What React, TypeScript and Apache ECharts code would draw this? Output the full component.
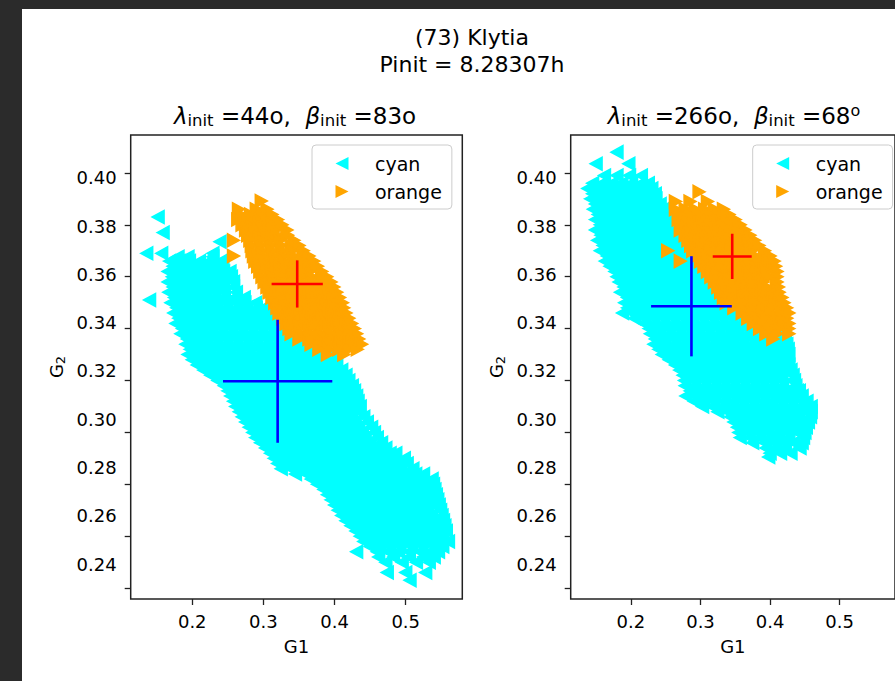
import React, { useEffect, useRef } from "react";
import * as echarts from "echarts";

const FONT = "DejaVu Sans";

// Tick values
const xTicks = [0.2, 0.3, 0.4, 0.5];
const yTicks = [0.24, 0.26, 0.28, 0.3, 0.32, 0.34, 0.36, 0.38, 0.4];

// Point clouds, listed row by row: [G2, [G1 values...]]
const cyanLeftRows: [number, number[]][] = [
  [0.383, [0.152]],
  [0.377, [0.159]],
  [0.3735, [0.239]],
  [0.369, [0.136, 0.157, 0.229]],
  [0.3677, [0.18, 0.194, 0.229]],
  [0.366, [0.168, 0.182, 0.196, 0.21, 0.224, 0.24]],
  [0.364, [0.173, 0.187, 0.201, 0.215, 0.229, 0.243]],
  [0.362, [0.166, 0.179, 0.192, 0.205, 0.218, 0.231, 0.244, 0.253]],
  [0.36, [0.172, 0.186, 0.2, 0.214, 0.228, 0.242, 0.255]],
  [0.358, [0.166, 0.179, 0.192, 0.205, 0.218, 0.231, 0.244, 0.258]],
  [0.356, [0.173, 0.187, 0.201, 0.215, 0.229, 0.243, 0.258]],
  [0.354, [0.167, 0.18, 0.193, 0.206, 0.219, 0.232, 0.245, 0.262]],
  [0.352, [0.175, 0.189, 0.203, 0.217, 0.231, 0.245, 0.259, 0.273]],
  [0.351, [0.14]],
  [0.35, [0.17, 0.183, 0.196, 0.209, 0.222, 0.235, 0.248, 0.261, 0.274, 0.289]],
  [0.348, [0.178, 0.192, 0.206, 0.22, 0.234, 0.248, 0.262, 0.276, 0.29, 0.3]],
  [0.346, [0.174, 0.188, 0.202, 0.216, 0.23, 0.244, 0.258, 0.272, 0.286, 0.298, 0.31]],
  [0.344, [0.181, 0.195, 0.209, 0.223, 0.237, 0.251, 0.265, 0.279, 0.293, 0.307, 0.314]],
  [0.342, [0.177, 0.191, 0.205, 0.219, 0.233, 0.247, 0.261, 0.275, 0.289, 0.303, 0.318]],
  [0.34, [0.186, 0.2, 0.214, 0.228, 0.242, 0.256, 0.27, 0.284, 0.298, 0.312, 0.322]],
  [0.338, [0.184, 0.198, 0.212, 0.226, 0.24, 0.254, 0.268, 0.282, 0.296, 0.31, 0.326]],
  [0.336, [0.193, 0.207, 0.221, 0.235, 0.249, 0.263, 0.277, 0.291, 0.305, 0.319, 0.333, 0.347]],
  [0.334, [0.191, 0.205, 0.219, 0.233, 0.247, 0.261, 0.275, 0.289, 0.303, 0.317, 0.331, 0.345, 0.359, 0.373]],
  [0.332, [0.197, 0.211, 0.225, 0.239, 0.253, 0.267, 0.281, 0.295, 0.309, 0.323, 0.337, 0.351, 0.365, 0.379, 0.386]],
  [0.33, [0.194, 0.208, 0.222, 0.236, 0.25, 0.264, 0.278, 0.292, 0.306, 0.32, 0.334, 0.348, 0.362, 0.376, 0.39, 0.398]],
  [0.328, [0.2, 0.214, 0.228, 0.242, 0.256, 0.27, 0.284, 0.298, 0.312, 0.326, 0.34, 0.354, 0.368, 0.382, 0.396, 0.402]],
  [0.326, [0.207, 0.221, 0.235, 0.249, 0.263, 0.277, 0.291, 0.305, 0.319, 0.333, 0.347, 0.361, 0.375, 0.389, 0.403]],
  [0.324, [0.216, 0.23, 0.244, 0.258, 0.272, 0.286, 0.3, 0.314, 0.328, 0.342, 0.356, 0.37, 0.384, 0.398, 0.41]],
  [0.322, [0.226, 0.24, 0.254, 0.268, 0.282, 0.296, 0.31, 0.324, 0.338, 0.352, 0.366, 0.38, 0.394, 0.406, 0.416]],
  [0.32, [0.236, 0.25, 0.264, 0.278, 0.292, 0.306, 0.32, 0.334, 0.348, 0.362, 0.376, 0.39, 0.404, 0.42]],
  [0.318, [0.245, 0.259, 0.273, 0.287, 0.301, 0.315, 0.329, 0.343, 0.357, 0.371, 0.385, 0.399, 0.413, 0.425]],
  [0.316, [0.25, 0.264, 0.278, 0.292, 0.306, 0.32, 0.334, 0.348, 0.362, 0.376, 0.39, 0.404, 0.418, 0.428]],
  [0.314, [0.254, 0.268, 0.282, 0.296, 0.31, 0.324, 0.338, 0.352, 0.366, 0.38, 0.394, 0.408, 0.42, 0.431]],
  [0.312, [0.258, 0.272, 0.286, 0.3, 0.314, 0.328, 0.342, 0.356, 0.37, 0.384, 0.398, 0.412, 0.426, 0.433]],
  [0.31, [0.261, 0.275, 0.289, 0.303, 0.317, 0.331, 0.345, 0.359, 0.373, 0.387, 0.401, 0.415, 0.427, 0.436]],
  [0.308, [0.266, 0.28, 0.294, 0.308, 0.322, 0.336, 0.35, 0.364, 0.378, 0.392, 0.406, 0.42, 0.434]],
  [0.306, [0.27, 0.284, 0.298, 0.312, 0.326, 0.34, 0.354, 0.368, 0.382, 0.396, 0.41, 0.424, 0.441]],
  [0.304, [0.275, 0.289, 0.303, 0.317, 0.331, 0.345, 0.359, 0.373, 0.387, 0.401, 0.415, 0.429, 0.446]],
  [0.302, [0.28, 0.294, 0.308, 0.322, 0.336, 0.35, 0.364, 0.378, 0.392, 0.406, 0.42, 0.434, 0.452]],
  [0.3, [0.285, 0.299, 0.313, 0.327, 0.341, 0.355, 0.369, 0.383, 0.397, 0.411, 0.425, 0.439, 0.456]],
  [0.298, [0.289, 0.303, 0.317, 0.331, 0.345, 0.359, 0.373, 0.387, 0.401, 0.415, 0.429, 0.443, 0.46]],
  [0.296, [0.296, 0.31, 0.324, 0.338, 0.352, 0.366, 0.38, 0.394, 0.408, 0.422, 0.436, 0.45, 0.466]],
  [0.294, [0.303, 0.317, 0.331, 0.345, 0.359, 0.373, 0.387, 0.401, 0.415, 0.429, 0.443, 0.457, 0.472]],
  [0.292, [0.31, 0.324, 0.338, 0.352, 0.366, 0.38, 0.394, 0.408, 0.422, 0.436, 0.45, 0.464, 0.478, 0.486]],
  [0.29, [0.315, 0.329, 0.343, 0.357, 0.371, 0.385, 0.399, 0.413, 0.427, 0.441, 0.455, 0.469, 0.483, 0.498]],
  [0.288, [0.32, 0.334, 0.348, 0.362, 0.376, 0.39, 0.404, 0.418, 0.432, 0.446, 0.46, 0.474, 0.488, 0.502]],
  [0.286, [0.325, 0.339, 0.353, 0.367, 0.381, 0.395, 0.409, 0.423, 0.437, 0.451, 0.465, 0.479, 0.493, 0.51]],
  [0.284, [0.345, 0.36, 0.374, 0.388, 0.402, 0.416, 0.43, 0.444, 0.458, 0.472, 0.486, 0.5, 0.514, 0.525]],
  [0.282, [0.367, 0.381, 0.395, 0.409, 0.423, 0.437, 0.451, 0.465, 0.479, 0.493, 0.507, 0.521, 0.537]],
  [0.28, [0.376, 0.39, 0.404, 0.418, 0.432, 0.446, 0.46, 0.474, 0.488, 0.502, 0.516, 0.53, 0.539]],
  [0.278, [0.385, 0.399, 0.413, 0.427, 0.441, 0.455, 0.469, 0.483, 0.497, 0.511, 0.525, 0.541]],
  [0.276, [0.39, 0.404, 0.418, 0.432, 0.446, 0.46, 0.474, 0.488, 0.502, 0.516, 0.53, 0.543]],
  [0.274, [0.395, 0.409, 0.423, 0.437, 0.451, 0.465, 0.479, 0.493, 0.507, 0.521, 0.535, 0.545]],
  [0.272, [0.4, 0.414, 0.428, 0.442, 0.456, 0.47, 0.484, 0.498, 0.512, 0.526, 0.54, 0.547]],
  [0.27, [0.405, 0.419, 0.433, 0.447, 0.461, 0.475, 0.489, 0.503, 0.517, 0.531, 0.549]],
  [0.268, [0.41, 0.424, 0.438, 0.452, 0.466, 0.48, 0.494, 0.508, 0.522, 0.536, 0.551]],
  [0.266, [0.416, 0.43, 0.444, 0.458, 0.472, 0.486, 0.5, 0.514, 0.528, 0.542, 0.553]],
  [0.264, [0.423, 0.437, 0.451, 0.465, 0.479, 0.493, 0.507, 0.521, 0.535, 0.549, 0.555]],
  [0.262, [0.43, 0.444, 0.458, 0.472, 0.486, 0.5, 0.514, 0.528, 0.542, 0.557]],
  [0.26, [0.436, 0.45, 0.464, 0.478, 0.492, 0.507, 0.522, 0.537, 0.552]],
  [0.258, [0.441, 0.456, 0.47, 0.485, 0.5, 0.515, 0.53, 0.545, 0.56]],
  [0.256, [0.45, 0.464, 0.478, 0.492, 0.508, 0.523, 0.538, 0.552]],
  [0.254, [0.431, 0.46, 0.475, 0.49, 0.505, 0.52, 0.535, 0.546]],
  [0.252, [0.462, 0.483, 0.505, 0.525, 0.54]],
  [0.25, [0.472, 0.495, 0.515, 0.533]],
  [0.246, [0.474, 0.5, 0.528]],
  [0.243, [0.506]],
];

const orangeLeftRows: [number, number[]][] = [
  [0.3892, [0.297]],
  [0.386, [0.265, 0.29, 0.305]],
  [0.384, [0.268, 0.282, 0.298, 0.312]],
  [0.382, [0.264, 0.278, 0.292, 0.306, 0.32]],
  [0.38, [0.27, 0.284, 0.298, 0.312, 0.326]],
  [0.378, [0.275, 0.289, 0.303, 0.317, 0.333]],
  [0.376, [0.278, 0.292, 0.306, 0.32, 0.334]],
  [0.374, [0.258, 0.281, 0.295, 0.309, 0.323, 0.343]],
  [0.372, [0.283, 0.297, 0.311, 0.325, 0.339, 0.35]],
  [0.37, [0.284, 0.298, 0.312, 0.326, 0.34, 0.356]],
  [0.368, [0.258, 0.286, 0.3, 0.314, 0.328, 0.342, 0.356, 0.364]],
  [0.366, [0.288, 0.302, 0.316, 0.33, 0.344, 0.358, 0.371]],
  [0.364, [0.292, 0.306, 0.32, 0.334, 0.348, 0.362, 0.376]],
  [0.362, [0.295, 0.309, 0.323, 0.337, 0.351, 0.365, 0.382]],
  [0.36, [0.298, 0.312, 0.326, 0.34, 0.354, 0.368, 0.382, 0.389]],
  [0.358, [0.301, 0.315, 0.329, 0.343, 0.357, 0.371, 0.385, 0.395]],
  [0.356, [0.305, 0.319, 0.333, 0.347, 0.361, 0.375, 0.389, 0.399]],
  [0.354, [0.308, 0.322, 0.336, 0.35, 0.364, 0.378, 0.392, 0.403]],
  [0.352, [0.312, 0.326, 0.34, 0.354, 0.368, 0.382, 0.396, 0.407]],
  [0.35, [0.316, 0.33, 0.344, 0.358, 0.372, 0.386, 0.4, 0.411]],
  [0.348, [0.319, 0.333, 0.347, 0.361, 0.375, 0.389, 0.403, 0.413]],
  [0.346, [0.322, 0.336, 0.35, 0.364, 0.378, 0.392, 0.406, 0.416]],
  [0.344, [0.327, 0.341, 0.355, 0.369, 0.383, 0.397, 0.411, 0.42]],
  [0.342, [0.332, 0.346, 0.36, 0.374, 0.388, 0.402, 0.414, 0.424]],
  [0.34, [0.336, 0.35, 0.364, 0.378, 0.392, 0.406, 0.42, 0.428]],
  [0.338, [0.339, 0.353, 0.367, 0.381, 0.395, 0.409, 0.42, 0.431]],
  [0.336, [0.35, 0.364, 0.378, 0.392, 0.406, 0.42, 0.434]],
  [0.334, [0.367, 0.381, 0.395, 0.41, 0.425, 0.438]],
  [0.332, [0.378, 0.392, 0.406, 0.42, 0.432]],
  [0.33, [0.39, 0.413]],
];

const cyanRightRows: [number, number[]][] = [
  [0.408, [0.18]],
  [0.4035, [0.15, 0.197]],
  [0.399, [0.162, 0.18, 0.198, 0.215]],
  [0.396, [0.145, 0.159, 0.173, 0.187, 0.201, 0.215, 0.225]],
  [0.394, [0.138, 0.152, 0.166, 0.18, 0.194, 0.208, 0.222, 0.23]],
  [0.392, [0.145, 0.159, 0.173, 0.187, 0.201, 0.215, 0.229, 0.235]],
  [0.39, [0.142, 0.156, 0.17, 0.184, 0.198, 0.212, 0.226, 0.236]],
  [0.388, [0.149, 0.163, 0.177, 0.191, 0.205, 0.219, 0.233, 0.242]],
  [0.386, [0.146, 0.16, 0.174, 0.188, 0.202, 0.216, 0.23, 0.246]],
  [0.384, [0.153, 0.167, 0.181, 0.195, 0.209, 0.223, 0.237, 0.251]],
  [0.382, [0.149, 0.163, 0.177, 0.191, 0.205, 0.219, 0.233, 0.247, 0.258]],
  [0.38, [0.156, 0.17, 0.184, 0.198, 0.212, 0.226, 0.24, 0.254, 0.265]],
  [0.378, [0.149, 0.163, 0.177, 0.191, 0.205, 0.219, 0.233, 0.247, 0.261, 0.272]],
  [0.376, [0.157, 0.171, 0.185, 0.199, 0.213, 0.227, 0.241, 0.255, 0.269, 0.279]],
  [0.374, [0.152, 0.166, 0.18, 0.194, 0.208, 0.222, 0.236, 0.25, 0.264, 0.276, 0.286]],
  [0.372, [0.16, 0.174, 0.188, 0.202, 0.216, 0.23, 0.244, 0.258, 0.272, 0.286, 0.293]],
  [0.37, [0.156, 0.17, 0.184, 0.198, 0.212, 0.226, 0.24, 0.254, 0.268, 0.282, 0.3]],
  [0.368, [0.166, 0.18, 0.194, 0.208, 0.222, 0.236, 0.25, 0.264, 0.278, 0.292, 0.306]],
  [0.366, [0.163, 0.177, 0.191, 0.205, 0.219, 0.233, 0.247, 0.261, 0.275, 0.289, 0.303, 0.314]],
  [0.364, [0.17, 0.184, 0.198, 0.212, 0.226, 0.24, 0.254, 0.268, 0.282, 0.296, 0.31, 0.322]],
  [0.362, [0.177, 0.191, 0.205, 0.219, 0.233, 0.247, 0.261, 0.275, 0.289, 0.303, 0.317, 0.329]],
  [0.36, [0.18, 0.194, 0.208, 0.222, 0.236, 0.25, 0.264, 0.278, 0.292, 0.306, 0.32, 0.334]],
  [0.358, [0.183, 0.197, 0.211, 0.225, 0.239, 0.253, 0.267, 0.281, 0.295, 0.309, 0.323, 0.343]],
  [0.356, [0.19, 0.204, 0.218, 0.232, 0.246, 0.26, 0.274, 0.288, 0.302, 0.316, 0.33, 0.344, 0.35]],
  [0.354, [0.185, 0.199, 0.213, 0.227, 0.241, 0.255, 0.269, 0.283, 0.297, 0.311, 0.325, 0.339, 0.357]],
  [0.352, [0.195, 0.209, 0.223, 0.237, 0.251, 0.265, 0.279, 0.293, 0.307, 0.321, 0.335, 0.349, 0.363, 0.368]],
  [0.35, [0.191, 0.205, 0.219, 0.233, 0.247, 0.261, 0.275, 0.289, 0.303, 0.317, 0.331, 0.345, 0.359, 0.378]],
  [0.348, [0.195, 0.209, 0.223, 0.237, 0.251, 0.265, 0.279, 0.293, 0.307, 0.321, 0.335, 0.349, 0.363, 0.377, 0.385]],
  [0.346, [0.188, 0.202, 0.216, 0.23, 0.244, 0.258, 0.272, 0.286, 0.3, 0.314, 0.328, 0.342, 0.356, 0.37, 0.392]],
  [0.344, [0.205, 0.219, 0.233, 0.247, 0.261, 0.275, 0.289, 0.303, 0.317, 0.331, 0.345, 0.359, 0.373, 0.387, 0.4]],
  [0.342, [0.219, 0.233, 0.247, 0.261, 0.275, 0.289, 0.303, 0.317, 0.331, 0.345, 0.359, 0.373, 0.387, 0.41]],
  [0.34, [0.226, 0.24, 0.254, 0.268, 0.282, 0.296, 0.31, 0.324, 0.338, 0.352, 0.366, 0.38, 0.394, 0.408, 0.415]],
  [0.338, [0.228, 0.242, 0.256, 0.27, 0.284, 0.298, 0.312, 0.326, 0.34, 0.354, 0.368, 0.382, 0.396, 0.41, 0.419]],
  [0.336, [0.235, 0.249, 0.263, 0.277, 0.291, 0.305, 0.319, 0.333, 0.347, 0.361, 0.375, 0.389, 0.403, 0.417, 0.422]],
  [0.334, [0.233, 0.247, 0.261, 0.275, 0.289, 0.303, 0.317, 0.331, 0.345, 0.359, 0.373, 0.387, 0.401, 0.415, 0.424]],
  [0.332, [0.24, 0.254, 0.268, 0.282, 0.296, 0.31, 0.324, 0.338, 0.352, 0.366, 0.38, 0.394, 0.408, 0.422, 0.426]],
  [0.33, [0.245, 0.259, 0.273, 0.287, 0.301, 0.315, 0.329, 0.343, 0.357, 0.371, 0.385, 0.399, 0.413, 0.427]],
  [0.328, [0.255, 0.269, 0.283, 0.297, 0.311, 0.325, 0.339, 0.353, 0.367, 0.381, 0.395, 0.409, 0.423]],
  [0.326, [0.264, 0.278, 0.292, 0.306, 0.32, 0.334, 0.348, 0.362, 0.376, 0.39, 0.404, 0.418, 0.427]],
  [0.324, [0.27, 0.284, 0.298, 0.312, 0.326, 0.34, 0.354, 0.368, 0.382, 0.396, 0.41, 0.424, 0.43]],
  [0.322, [0.275, 0.289, 0.303, 0.317, 0.331, 0.345, 0.359, 0.373, 0.387, 0.401, 0.415, 0.433]],
  [0.32, [0.277, 0.291, 0.305, 0.319, 0.333, 0.347, 0.361, 0.375, 0.389, 0.403, 0.417, 0.431, 0.435]],
  [0.318, [0.278, 0.292, 0.306, 0.32, 0.334, 0.348, 0.362, 0.376, 0.39, 0.404, 0.418, 0.437]],
  [0.316, [0.285, 0.299, 0.313, 0.327, 0.341, 0.355, 0.369, 0.383, 0.397, 0.411, 0.425, 0.439, 0.442]],
  [0.314, [0.279, 0.293, 0.307, 0.321, 0.335, 0.349, 0.363, 0.377, 0.391, 0.405, 0.419, 0.433, 0.446]],
  [0.312, [0.291, 0.305, 0.319, 0.333, 0.347, 0.361, 0.375, 0.389, 0.403, 0.417, 0.431, 0.445, 0.453]],
  [0.31, [0.303, 0.317, 0.331, 0.345, 0.359, 0.373, 0.387, 0.401, 0.415, 0.429, 0.444, 0.459]],
  [0.308, [0.325, 0.339, 0.353, 0.367, 0.381, 0.395, 0.409, 0.423, 0.437, 0.451, 0.459]],
  [0.306, [0.343, 0.357, 0.371, 0.385, 0.399, 0.413, 0.427, 0.441, 0.458]],
  [0.304, [0.348, 0.362, 0.376, 0.39, 0.404, 0.418, 0.432, 0.446, 0.455]],
  [0.302, [0.353, 0.367, 0.381, 0.395, 0.409, 0.423, 0.437, 0.452]],
  [0.3, [0.355, 0.369, 0.383, 0.397, 0.411, 0.425, 0.439, 0.45]],
  [0.298, [0.357, 0.371, 0.385, 0.399, 0.413, 0.427, 0.448]],
  [0.296, [0.375, 0.392, 0.406, 0.42, 0.434, 0.446]],
  [0.294, [0.394, 0.408, 0.422, 0.443]],
  [0.292, [0.4, 0.415, 0.43]],
  [0.2905, [0.398]],
];

const orangeRightRows: [number, number[]][] = [
  [0.3927, [0.298]],
  [0.389, [0.264, 0.285, 0.31]],
  [0.386, [0.264, 0.278, 0.292, 0.306, 0.32, 0.333]],
  [0.384, [0.271, 0.285, 0.299, 0.313, 0.327, 0.341]],
  [0.382, [0.268, 0.282, 0.296, 0.31, 0.324, 0.338, 0.35]],
  [0.38, [0.275, 0.289, 0.303, 0.317, 0.331, 0.345, 0.357]],
  [0.378, [0.271, 0.285, 0.299, 0.313, 0.327, 0.341, 0.355, 0.364]],
  [0.376, [0.278, 0.292, 0.306, 0.32, 0.334, 0.348, 0.362, 0.371]],
  [0.374, [0.282, 0.296, 0.31, 0.324, 0.338, 0.352, 0.366, 0.378]],
  [0.372, [0.286, 0.3, 0.314, 0.328, 0.342, 0.356, 0.37, 0.384]],
  [0.37, [0.253, 0.289, 0.303, 0.317, 0.331, 0.345, 0.359, 0.373, 0.392]],
  [0.368, [0.295, 0.309, 0.323, 0.337, 0.351, 0.365, 0.379, 0.393, 0.4]],
  [0.366, [0.271, 0.3, 0.314, 0.328, 0.342, 0.356, 0.37, 0.384, 0.398, 0.406]],
  [0.364, [0.305, 0.319, 0.333, 0.347, 0.361, 0.375, 0.389, 0.403, 0.408]],
  [0.362, [0.31, 0.324, 0.338, 0.352, 0.366, 0.38, 0.394, 0.41]],
  [0.36, [0.315, 0.329, 0.343, 0.357, 0.371, 0.385, 0.399, 0.41]],
  [0.358, [0.32, 0.334, 0.348, 0.362, 0.376, 0.39, 0.41]],
  [0.356, [0.325, 0.339, 0.353, 0.367, 0.381, 0.395, 0.409, 0.412]],
  [0.354, [0.329, 0.343, 0.357, 0.371, 0.385, 0.399, 0.413]],
  [0.352, [0.333, 0.347, 0.361, 0.375, 0.389, 0.403, 0.417]],
  [0.35, [0.337, 0.351, 0.365, 0.379, 0.393, 0.407, 0.42]],
  [0.348, [0.348, 0.362, 0.376, 0.39, 0.404, 0.418, 0.424]],
  [0.346, [0.36, 0.374, 0.388, 0.402, 0.416, 0.427]],
  [0.344, [0.368, 0.382, 0.396, 0.41, 0.424]],
  [0.342, [0.376, 0.39, 0.404, 0.418, 0.427]],
  [0.34, [0.385, 0.399, 0.413, 0.427]],
  [0.338, [0.394, 0.41, 0.427]],
  [0.336, [0.404]],
];

// Crosses: centre G1, centre G2, half-width in G1, half-height in G2
const blueCrossLeft = [0.32, 0.3197, 0.0768, 0.0237];
const redCrossLeft = [0.3475, 0.3572, 0.036, 0.0091];
const blueCrossRight = [0.287, 0.3486, 0.058, 0.0193];
const redCrossRight = [0.3456, 0.3678, 0.028, 0.0087];

const toPoints = (rows: [number, number[]][]) =>
  rows.flatMap(([y, xs]) => xs.map((x) => [x, y]));

const X_MIN = 0.1135;
const X_MAX = 0.5795;
const Y_MIN = 0.2358;
const Y_MAX = 0.4146;
// the reference draws its G2 tick labels on a slightly different spacing than its ticks
const Y_LABEL_MIN = 0.2255;
const Y_LABEL_MAX = 0.4178;

const GRID_W = 331.6;
const GRID_H = 464;
const GRID_TOP = 135;
const GRID_LEFTS = [130.7, 570.7];

const BLACK = "#000";
const FRAME = "#222";

const TRI_LEFT = "path://M0,5L10,0L10,10Z";
const TRI_RIGHT = "path://M10,5L0,0L0,10Z";

function crossSeries(c: number[], color: string, idx: number) {
  const [cx, cy, hw, hh] = c;
  const base = {
    type: "line",
    xAxisIndex: idx,
    yAxisIndex: idx,
    showSymbol: false,
    symbol: "none",
    silent: true,
    z: 5,
    lineStyle: { color, width: 2.6 },
  };
  return [
    { ...base, data: [[cx - hw, cy], [cx + hw, cy]] },
    { ...base, data: [[cx, cy - hh], [cx, cy + hh]] },
  ];
}

function scatterSeries(name: string, rows: [number, number[]][], idx: number, color: string, sym: string) {
  return {
    type: "scatter",
    name,
    xAxisIndex: idx,
    yAxisIndex: idx,
    data: toPoints(rows),
    symbol: sym,
    symbolSize: [12, 13],
    itemStyle: { color, opacity: 1, borderColor: color, borderWidth: 1.5 },
    silent: true,
    large: false,
    z: 2,
  };
}

const subRich = {
  g: { fontSize: 23, fontStyle: "italic", fontFamily: FONT, color: BLACK, lineHeight: 27 },
  s: { fontSize: 16.5, fontFamily: FONT, color: BLACK, verticalAlign: "bottom", lineHeight: 14 },
  n: { fontSize: 23, fontFamily: FONT, color: BLACK, lineHeight: 27 },
  p: { fontSize: 16, fontFamily: FONT, color: BLACK, verticalAlign: "top", lineHeight: 14 },
};

const nameRich = {
  a: { fontSize: 18, fontFamily: FONT, color: BLACK, lineHeight: 20 },
  b: { fontSize: 13, fontFamily: FONT, color: BLACK, verticalAlign: "bottom", lineHeight: 12 },
};

function buildOption() {
  const grids = GRID_LEFTS.map((left) => ({
    left,
    top: GRID_TOP,
    width: GRID_W,
    height: GRID_H,
    show: true,
    borderColor: FRAME,
    borderWidth: 1.5,
    backgroundColor: "transparent",
  }));

  const xAxes = [0, 1].map((i) => ({
    type: "value",
    gridIndex: i,
    min: X_MIN,
    max: X_MAX,
    name: "G1",
    nameLocation: "middle",
    nameGap: 38,
    nameTextStyle: { fontSize: 18, color: BLACK, fontFamily: FONT },
    axisLine: { show: false, onZero: false },
    splitLine: { show: false },
    axisTick: {
      show: true,
      inside: false,
      length: 6,
      customValues: xTicks,
      lineStyle: { color: FRAME, width: 1.3 },
    },
    axisLabel: {
      customValues: xTicks,
      formatter: (v: number) => v.toFixed(1),
      fontSize: 18,
      color: BLACK,
      fontFamily: FONT,
      margin: 13,
    },
  }));

  const yAxes: any[] = [0, 1].map((i) => ({
    type: "value",
    gridIndex: i,
    min: Y_MIN,
    max: Y_MAX,
    name: "{a|G}{b|2}",
    nameLocation: "middle",
    nameRotate: 90,
    nameGap: 64,
    nameTextStyle: { fontSize: 18, color: BLACK, fontFamily: FONT, rich: nameRich },
    axisLine: { show: false, onZero: false },
    splitLine: { show: false },
    axisTick: {
      show: true,
      inside: false,
      length: 6,
      customValues: yTicks,
      lineStyle: { color: FRAME, width: 1.3 },
    },
    axisLabel: { show: false },
  }));

  // label-only axes placed where the reference prints its G2 tick labels
  [0, 1].forEach((i) => {
    yAxes.push({
      type: "value",
      gridIndex: i,
      position: "left",
      min: Y_LABEL_MIN,
      max: Y_LABEL_MAX,
      axisLine: { show: false, onZero: false },
      splitLine: { show: false },
      axisTick: { show: false },
      axisLabel: {
        customValues: yTicks,
        formatter: (v: number) => v.toFixed(2),
        fontSize: 18,
        color: BLACK,
        fontFamily: FONT,
        margin: 14,
      },
    });
  });

  const legends = [312, 752.7].map((left) => ({
    data: [
      { name: "cyan", icon: TRI_LEFT },
      { name: "orange", icon: TRI_RIGHT },
    ],
    orient: "vertical",
    left,
    top: 145,
    itemWidth: 13,
    itemHeight: 13,
    itemGap: 9,
    padding: [9, 10, 8, 23.5],
    borderColor: "#cccccc",
    borderWidth: 1,
    borderRadius: 4,
    backgroundColor: "rgba(255,255,255,0.8)",
    selectedMode: false,
    itemStyle: { borderWidth: 0 },
    textStyle: {
      fontSize: 19,
      color: BLACK,
      fontFamily: FONT,
      lineHeight: 19,
      padding: [0, 0, 0, 21.5],
    },
  }));

  return {
    animation: false,
    backgroundColor: "transparent",
    title: [
      {
        text: "(73) Klytia\nPinit = 8.28307h",
        left: 472,
        top: 24,
        textAlign: "center",
        padding: 0,
        textStyle: { fontSize: 22, fontWeight: "normal", color: BLACK, fontFamily: FONT, lineHeight: 27 },
      },
      {
        text: "{g|λ}{s|init}{n| =44o,  }{g|β}{s|init}{n| =83o}",
        left: 295,
        top: 102,
        textAlign: "center",
        padding: 0,
        textStyle: { rich: subRich, fontSize: 23, fontWeight: "normal", color: BLACK, fontFamily: FONT },
      },
      {
        text: "{g|λ}{s|init}{n| =266o,  }{g|β}{s|init}{n| =68}{p|o}",
        left: 734,
        top: 102,
        textAlign: "center",
        padding: 0,
        textStyle: { rich: subRich, fontSize: 23, fontWeight: "normal", color: BLACK, fontFamily: FONT },
      },
    ],
    legend: legends,
    grid: grids,
    xAxis: xAxes,
    yAxis: yAxes,
    series: [
      scatterSeries("cyan", cyanLeftRows, 0, "#00ffff", TRI_LEFT),
      scatterSeries("orange", orangeLeftRows, 0, "#ffa500", TRI_RIGHT),
      scatterSeries("cyan", cyanRightRows, 1, "#00ffff", TRI_LEFT),
      scatterSeries("orange", orangeRightRows, 1, "#ffa500", TRI_RIGHT),
      ...crossSeries(blueCrossLeft, "#0000ff", 0),
      ...crossSeries(redCrossLeft, "#ff0000", 0),
      ...crossSeries(blueCrossRight, "#0000ff", 1),
      ...crossSeries(redCrossRight, "#ff0000", 1),
    ],
  };
}

export default function App() {
  const ref = useRef<HTMLDivElement>(null);
  useEffect(() => {
    if (!ref.current) return;
    const chart = echarts.init(ref.current, undefined, { renderer: "svg" });
    chart.setOption(buildOption() as any);
    return () => chart.dispose();
  }, []);
  return (
    <div
      style={{
        position: "fixed",
        left: 0,
        top: 0,
        width: 895,
        height: 681,
        background: "#2b2b2b",
        overflow: "hidden",
      }}
    >
      <div style={{ position: "absolute", left: 22, top: 9, width: 873, height: 672, background: "#ffffff" }} />
      <div ref={ref} style={{ position: "absolute", left: 0, top: 0, width: 895, height: 681 }} />
    </div>
  );
}
